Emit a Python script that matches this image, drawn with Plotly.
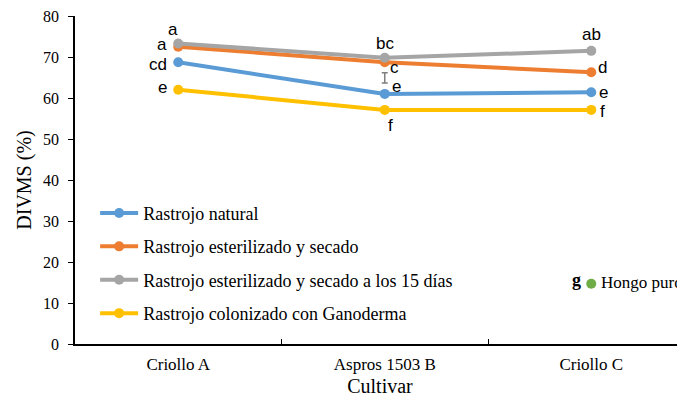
import plotly.graph_objects as go

# ---- data ----
cultivars = ["Criollo A", "Aspros 1503 B", "Criollo C"]
series_names = [
    "Rastrojo natural",
    "Rastrojo esterilizado y secado",
    "Rastrojo esterilizado y secado a los 15 días",
    "Rastrojo colonizado con Ganoderma",
]
natural = [68.7, 61.0, 61.4]
esterilizado = [72.5, 68.7, 66.3]
esterilizado_15 = [73.3, 69.8, 71.5]
colonizado = [62.0, 57.1, 57.1]
series_values = [natural, esterilizado, esterilizado_15, colonizado]
series_letters = [
    ["cd", "e", "e"],
    ["a", "c", "d"],
    ["a", "bc", "ab"],
    ["e", "f", "f"],
]
hongo_cultivar = ["Criollo C"]
hongo_value = [14.7]
hongo_letter = "g"
hongo_name = "Hongo puro"
err_cultivar = ["Aspros 1503 B"]
err_center = [64.9]
err_half = [1.25]

# ---- style ----
colors = ["#5B9BD5", "#ED7D31", "#A5A5A5", "#FFC000"]
letter_shifts = [
    [(-20, -2), (12, 7), (12, 0)],
    [(-16, 2), (10, -5), (11, 5)],
    [(-5, 14), (0, 14), (0, 16)],
    [(-16, 2), (6, -16), (11, -2)],
]
serif = "Liberation Serif"
sans = "Liberation Sans"

fig = go.Figure()
for name, vals, col in zip(series_names, series_values, colors):
    fig.add_trace(go.Scatter(
        x=cultivars, y=vals, name=name, mode="lines+markers",
        line=dict(color=col, width=4), marker=dict(color=col, size=10),
        legendgroup=name,
    ))

fig.add_trace(go.Scatter(
    x=err_cultivar, y=err_center, mode="markers", showlegend=False,
    marker=dict(size=0.1, color="rgba(0,0,0,0)"),
    error_y=dict(type="data", array=err_half, color="#7F7F7F", thickness=1.5, width=3),
))

fig.add_trace(go.Scatter(
    x=hongo_cultivar, y=hongo_value, mode="markers", showlegend=False,
    marker=dict(color="#70AD47", size=10),
))

annotations = []
for vals, letters, shifts in zip(series_values, series_letters, letter_shifts):
    for c, v, t, (dx, dy) in zip(cultivars, vals, letters, shifts):
        annotations.append(dict(
            x=c, y=v, xref="x", yref="y", text=t, showarrow=False,
            xshift=dx, yshift=dy, font=dict(family=sans, size=17, color="black"),
        ))
annotations.append(dict(
    x=hongo_cultivar[0], y=hongo_value[0], xref="x", yref="y", text="<b>" + hongo_letter + "</b>",
    showarrow=False, xshift=-15, yshift=4,
    font=dict(family=serif, size=18, color="black"),
))
annotations.append(dict(
    x=hongo_cultivar[0], y=hongo_value[0], xref="x", yref="y", text=hongo_name,
    showarrow=False, xshift=8, yshift=1, xanchor="left",
    font=dict(family=serif, size=17, color="black"),
))

# page body has an 8px margin: figure is placed at (8, 8) in the window
fig.update_layout(
    width=677, height=394,
    margin=dict(l=67, r=0, t=8, b=58),
    paper_bgcolor="white", plot_bgcolor="white",
    font=dict(family=serif, size=16, color="black"),
    showlegend=True,
    legend=dict(
        x=0.033, y=0.455, xanchor="left", yanchor="top",
        bgcolor="rgba(0,0,0,0)", font=dict(family=serif, size=18),
        tracegroupgap=7, itemwidth=38,
    ),
    annotations=annotations,
)
fig.update_xaxes(
    range=[-0.5, 2.454], showline=True, linecolor="black", linewidth=1.5,
    ticks="inside", tickson="boundaries", ticklen=5, tickcolor="black",
    showgrid=False, zeroline=False, tickfont=dict(family=serif, size=17),
    ticklabelstandoff=4, automargin=False,
    title=dict(text="Cultivar", font=dict(family=serif, size=20), standoff=6),
)
fig.update_yaxes(
    range=[0, 80], dtick=10, showline=True, linecolor="black", linewidth=1.5,
    ticks="outside", ticklen=5, tickcolor="black", showgrid=False, zeroline=False,
    tickfont=dict(family=serif, size=16), ticklabelstandoff=6, automargin=False,
    ticklabeloverflow="allow",
    title=dict(text="DIVMS (%)", font=dict(family=serif, size=20), standoff=6),
)

fig.write_html("out.html")
